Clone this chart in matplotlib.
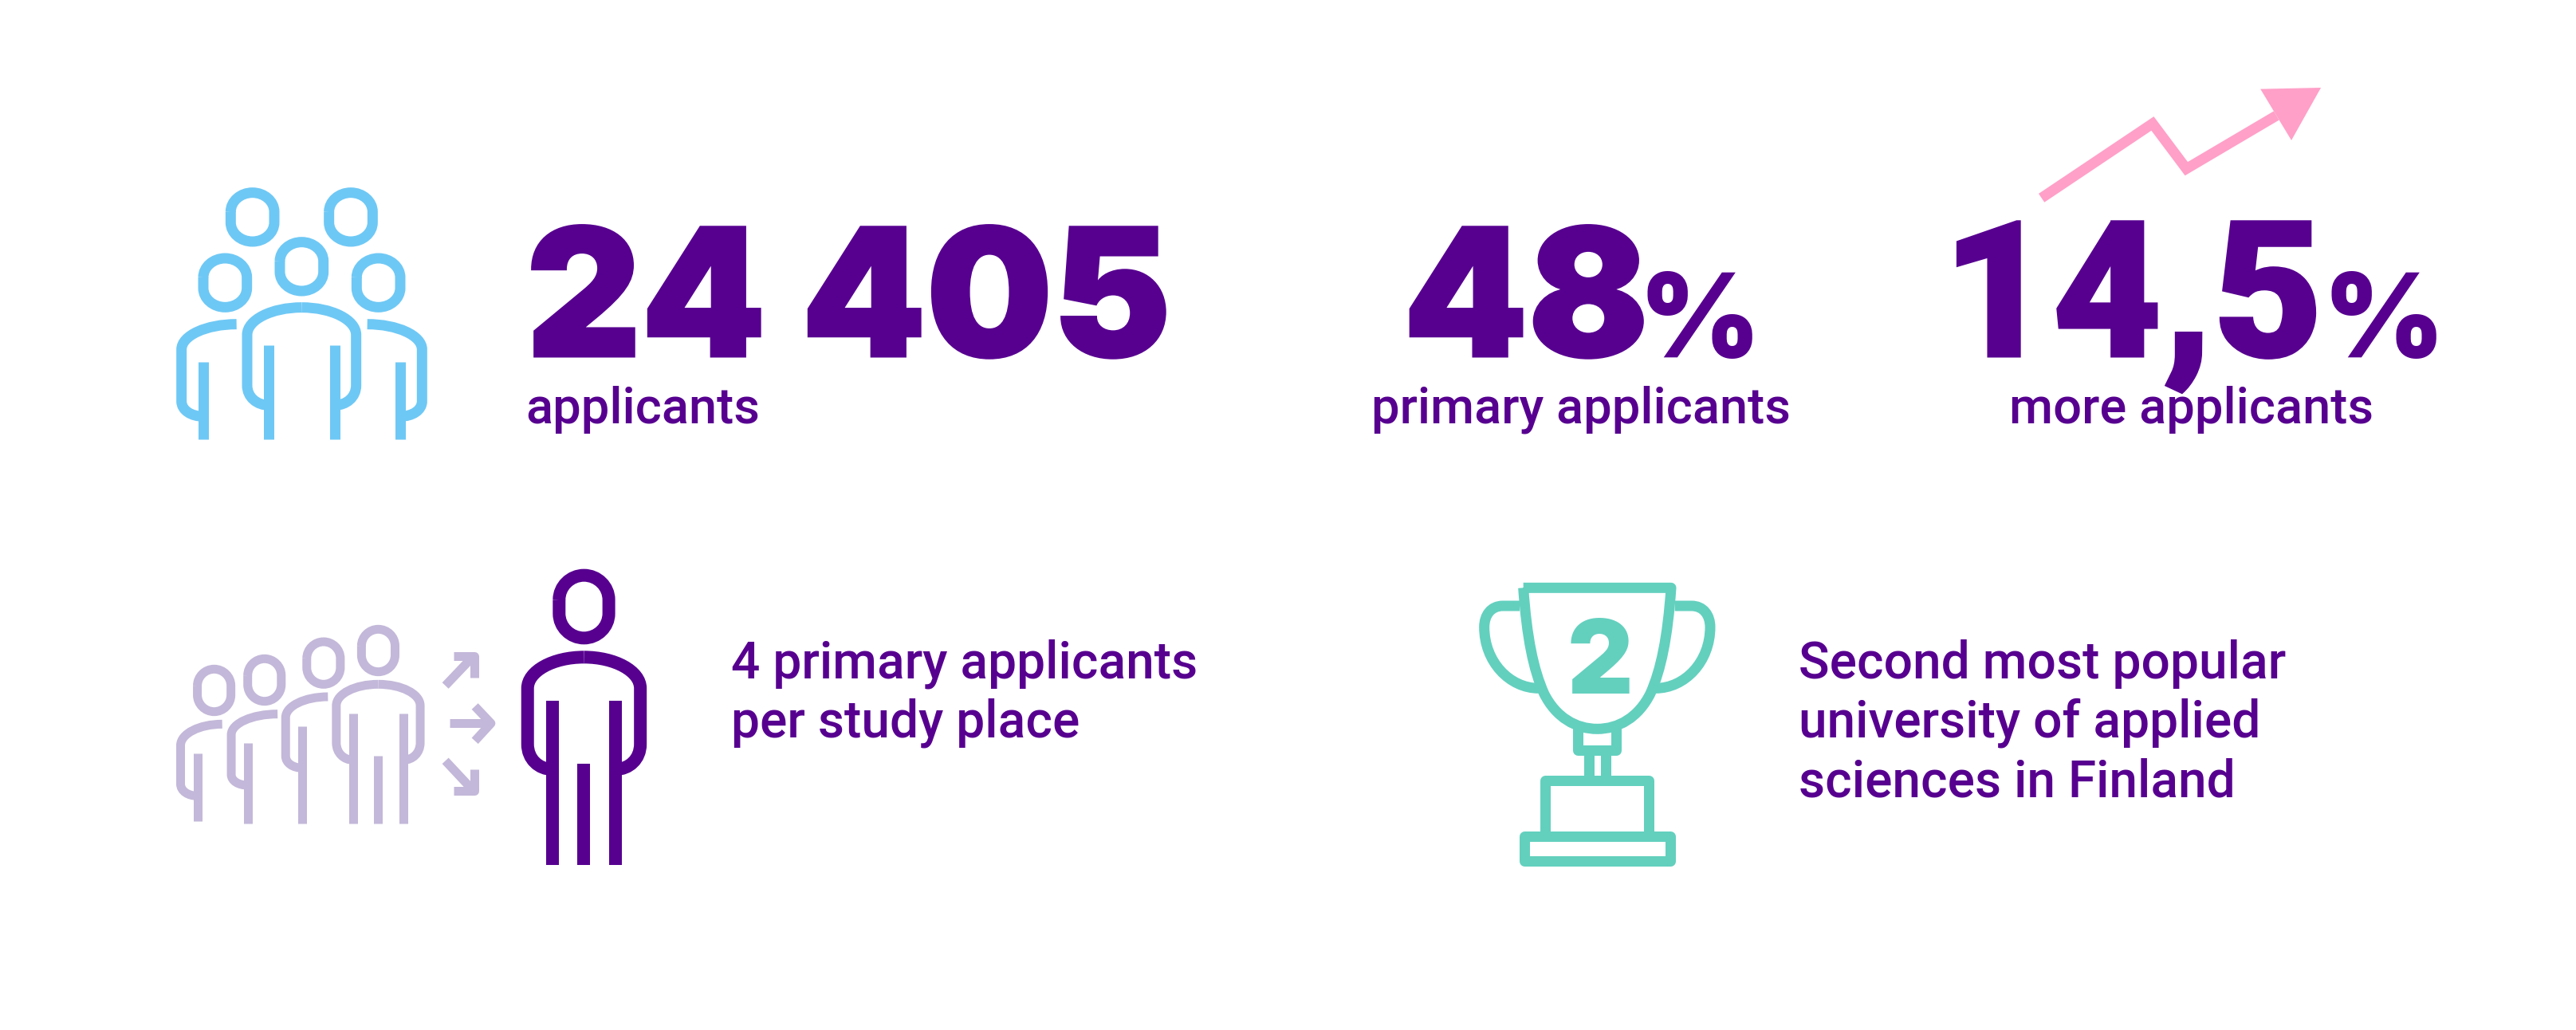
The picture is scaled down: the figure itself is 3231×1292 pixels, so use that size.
import matplotlib
matplotlib.use("Agg")
import matplotlib.pyplot as plt
import matplotlib.patheffects as pe
from matplotlib.path import Path
from matplotlib.patches import PathPatch, Polygon

# big numbers and captions
stat_values = ["24 405", "48", "14,5"]
stat_suffix = ["", "%", "%"]
stat_labels = ["applicants", "primary applicants", "more applicants"]
note_left = ["4 primary applicants", "per study place"]
note_right = ["Second most popular", "university of applied", "sciences in Finland"]
trophy_rank = "2"

PURPLE = "#570090"
BLUE = "#6EC8F5"
LILAC = "#C3B8D9"
TEAL = "#63D0BE"
PINK = "#FFA0C8"

BIG_FONT = "Inter"
TEXT_FONT = "Roboto"

fig = plt.figure(figsize=(32.31, 12.92), dpi=100, facecolor="white")
ax = fig.add_axes([0, 0, 1, 1])
ax.set_xlim(0, 3231)
ax.set_ylim(1292, 0)
ax.axis("off")


def px(size):
    # pixels to points
    return size * 0.72


def stroke(points, codes, color, lw, frame):
    ox, oy, sx, sy = frame
    verts = [(ox + x * sx, oy + y * sy) for x, y in points]
    patch = PathPatch(Path(verts, codes), fill=False, edgecolor=color, lw=px(lw),
                      capstyle="butt", joinstyle="round")
    ax.add_patch(patch)


def line(points, color, lw, frame, join="miter"):
    ox, oy, sx, sy = frame
    verts = [(ox + x * sx, oy + y * sy) for x, y in points]
    codes = [Path.MOVETO] + [Path.LINETO] * (len(points) - 1)
    ax.add_patch(PathPatch(Path(verts, codes), fill=False, edgecolor=color, lw=px(lw),
                           capstyle="butt", joinstyle=join))


def head(cx, cy, hw, hh, color, lw, frame):
    s = hh * 0.22
    k = 0.55
    pts = [(cx - hw, cy - s),
           (cx - hw, cy - s - (hh - s) * k), (cx - hw * k, cy - hh), (cx, cy - hh),
           (cx + hw * k, cy - hh), (cx + hw, cy - s - (hh - s) * k), (cx + hw, cy - s),
           (cx + hw, cy + s),
           (cx + hw, cy + s + (hh - s) * k), (cx + hw * k, cy + hh), (cx, cy + hh),
           (cx - hw * k, cy + hh), (cx - hw, cy + s + (hh - s) * k), (cx - hw, cy + s),
           (cx - hw, cy - s)]
    codes = [Path.MOVETO] + [Path.CURVE4] * 6 + [Path.LINETO] + [Path.CURVE4] * 6 + [Path.LINETO]
    stroke(pts, codes, color, lw, frame)


def half_body(start, shoulder_x, shoulder_y, hip_y, end, color, lw, frame):
    # shoulder curve, straight side, then curve back to the leg
    sx, sy = start
    ex, ey = end
    pts = [(sx, sy),
           (sx + (shoulder_x - sx) * 0.55, sy), (shoulder_x, sy + (shoulder_y - sy) * 0.45), (shoulder_x, shoulder_y),
           (shoulder_x, hip_y),
           (shoulder_x, hip_y + (ey - hip_y) * 0.6), (shoulder_x + (ex - shoulder_x) * 0.45, ey), (ex, ey)]
    codes = [Path.MOVETO] + [Path.CURVE4] * 3 + [Path.LINETO] + [Path.CURVE4] * 3
    stroke(pts, codes, color, lw, frame)


def leg(x, y0, y1, color, lw, frame):
    line([(x, y0), (x, y1)], color, lw, frame)


# ---- group of people, top left
f = (180, 200, 1 / 3, 1 / 3)
w = 13
for cx, cy in [(410, 217), (780, 217), (595, 403), (307, 464), (884, 464)]:
    head(cx, cy, 82, 92, BLUE, w, f)
half_body((595, 557), 390, 660, 850, (472, 925), BLUE, w, f)
half_body((595, 557), 800, 660, 850, (719, 925), BLUE, w, f)
half_body((350, 620), 143, 715, 910, (225, 967), BLUE, w, f)
half_body((842, 620), 1048, 715, 910, (966, 967), BLUE, w, f)
for x, y0 in [(472, 700), (719, 700), (225, 762), (966, 762)]:
    leg(x, y0, 1052, BLUE, w, f)

# ---- queue and single person, bottom left
f = (200, 690, 660 / 1568, 1 / 3)
w = 11
for cx, cy in [(163, 528), (313, 489), (489, 425), (652, 378)]:
    head(cx, cy, 50, 80, LILAC, w, f)
half_body((187, 655), 63, 735, 880, (113, 925), LILAC, w, f)
half_body((352, 617), 214, 695, 845, (263, 885), LILAC, w, f)
half_body((502, 552), 376, 630, 775, (426, 820), LILAC, w, f)
half_body((652, 505), 527, 585, 725, (577, 790), LILAC, w, f)
half_body((652, 505), 777, 585, 725, (727, 790), LILAC, w, f)
for x, y0, y1 in [(113, 765, 1020), (263, 726, 1028), (426, 662, 1028),
                  (577, 615, 1028), (727, 615, 1028), (652, 773, 1028)]:
    leg(x, y0, y1, LILAC, w, f)
line([(852, 510), (935, 400)], LILAC, w, f)
line([(877, 398), (938, 398), (938, 480)], LILAC, w, f, join="round")
line([(865, 652), (985, 652)], LILAC, w, f)
line([(940, 588), (988, 652), (940, 718)], LILAC, w, f, join="round")
line([(852, 793), (935, 905)], LILAC, w, f)
line([(877, 905), (938, 905), (938, 825)], LILAC, w, f, join="round")

w = 16
head(1265, 213, 74, 118, PURPLE, w, f)
half_body((1265, 403), 1097, 520, 730, (1171, 825), PURPLE, w, f)
half_body((1265, 403), 1433, 520, 730, (1359, 825), PURPLE, w, f)
for x, y0 in [(1171, 568), (1359, 568), (1265, 805)]:
    leg(x, y0, 1186, PURPLE, w, f)

# ---- trophy
f = (1820, 700, 1 / 3, 1 / 3)
w = 13
cup = [(272, 112), (828, 112),
       (815, 300), (790, 420), (750, 510),
       (705, 600), (630, 643), (550, 643),
       (470, 643), (395, 600), (350, 510),
       (310, 420), (285, 300), (272, 112)]
stroke(cup, [Path.MOVETO, Path.LINETO] + [Path.CURVE4] * 12, TEAL, w, f)
handle_codes = [Path.MOVETO, Path.LINETO, Path.CURVE4, Path.CURVE4, Path.CURVE4,
                Path.CURVE4, Path.CURVE4, Path.CURVE4]
stroke([(258, 180), (195, 180), (150, 180), (125, 215), (125, 260),
        (125, 390), (220, 490), (330, 490)], handle_codes, TEAL, w, f)
stroke([(842, 180), (905, 180), (950, 180), (975, 215), (975, 260),
        (975, 390), (880, 490), (770, 490)], handle_codes, TEAL, w, f)
line([(478, 640), (478, 724), (622, 724), (622, 640)], TEAL, w, f, join="round")
line([(518, 724), (518, 838)], TEAL, w, f)
line([(582, 724), (582, 838)], TEAL, w, f)
line([(354, 1048), (354, 838), (745, 838), (745, 1048)], TEAL, w, f, join="round")
line([(276, 1048), (824, 1048), (824, 1141), (276, 1141), (276, 1048), (824, 1048)], TEAL, w, f, join="round")
ax.text(1820 + 562 / 3, 700 + 509 / 3, trophy_rank, fontsize=px(128), color=TEAL,
        family=BIG_FONT, weight=900, ha="center", va="baseline")

# ---- pink arrow
f = (2420, 90, 700 / 1568, 1 / 3)
line([(315, 475), (627, 195), (722, 365), (975, 165)], PINK, 13, f)
ax.add_patch(Polygon([(2420 + 930 * f[2], 90 + 65 / 3), (2420 + 1100 * f[2], 90 + 60 / 3),
                      (2420 + 1017 * f[2], 90 + 258 / 3)], closed=True, facecolor=PINK, edgecolor="none"))

# ---- big numbers
big_x = [660, 1760, 2436]
big_font = ["Inter", "Inter", "Roboto"]
big_size = [223, 223, 238]
suffix_x = [None, 2055, 2914]
label_x = [659, 1720, 2520]
heavier = [pe.withStroke(linewidth=px(3), foreground=PURPLE, joinstyle="miter")]
for i, value in enumerate(stat_values):
    ax.text(big_x[i], 447, value, fontsize=px(big_size[i]), color=PURPLE, family=big_font[i],
            weight=900, ha="left", va="baseline", path_effects=heavier)
    if stat_suffix[i]:
        ax.text(suffix_x[i], 448, stat_suffix[i], fontsize=px(146), color=PURPLE,
                family=BIG_FONT, weight=900, ha="left", va="baseline")
    ax.text(label_x[i], 531, stat_labels[i], fontsize=px(63.3), color=PURPLE,
            family=TEXT_FONT, weight=500, ha="left", va="baseline")

# ---- notes
for text, y in zip(note_left, [851, 925]):
    ax.text(917, y, text, fontsize=px(64), color=PURPLE, family=TEXT_FONT, weight=500,
            ha="left", va="baseline")
for text, y in zip(note_right, [851, 925, 1000]):
    ax.text(2256, y, text, fontsize=px(64), color=PURPLE, family=TEXT_FONT, weight=500,
            ha="left", va="baseline")

fig.savefig("out.png", dpi=100, facecolor="white")
